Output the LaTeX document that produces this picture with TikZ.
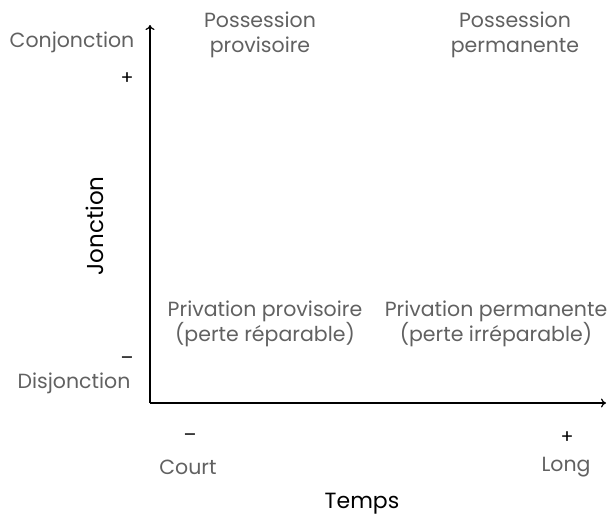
\documentclass[tikz,border=0pt]{standalone}
\usepackage{fontspec}
\setmainfont{Poppins}
\usetikzlibrary{arrows.meta}
\begin{document}
\begin{tikzpicture}[x=1pt,y=-1pt,
  lbl/.style={text=black!62, font=\fontsize{20.5}{25}\selectfont, align=center, inner sep=0pt},
  sgn/.style={text=black, font=\fontsize{19}{20}\selectfont, inner sep=0pt},
  ttl/.style={text=black, font=\fontsize{22}{25}\selectfont, inner sep=0pt},
  axis/.style={line width=1.2pt, -{To[length=5pt,width=9pt]}}]
\useasboundingbox (0,0) rectangle (611,517);
\coordinate (O) at (150,403);
\coordinate (Ytop) at (150,25);
\coordinate (Xend) at (606,403);
\draw[axis] (O) -- (Ytop);
\draw[axis] (O) -- (Xend);
\node[lbl] (conj) at (72,42) {Conjonction};
\node[lbl] (disj) at (74,383) {Disjonction};
\node[sgn] (yplus) at (127,79) {+};
\node[sgn] (yminus) at (127,361) {–};
\node[lbl] (pprov) at (260,35) {Possession\\provisoire};
\node[lbl] (pperm) at (515,35) {Possession\\permanente};
\node[lbl] (prprov) at (265,324) {Privation provisoire\\(perte réparable)};
\node[lbl] (prperm) at (496,324) {Privation permanente\\(perte irréparable)};
\node[sgn] (xminus) at (190,438) {–};
\node[sgn] (xplus) at (567,438) {+};
\node[lbl] (court) at (188,467) {Court};
\node[lbl] (long) at (566,467) {Long};
\node[ttl] (temps) at (362,504) {Temps};
\node[ttl, font=\fontsize{23}{25}\selectfont, rotate=90] (jonc) at (95,226) {Jonction};
\end{tikzpicture}
\end{document}
